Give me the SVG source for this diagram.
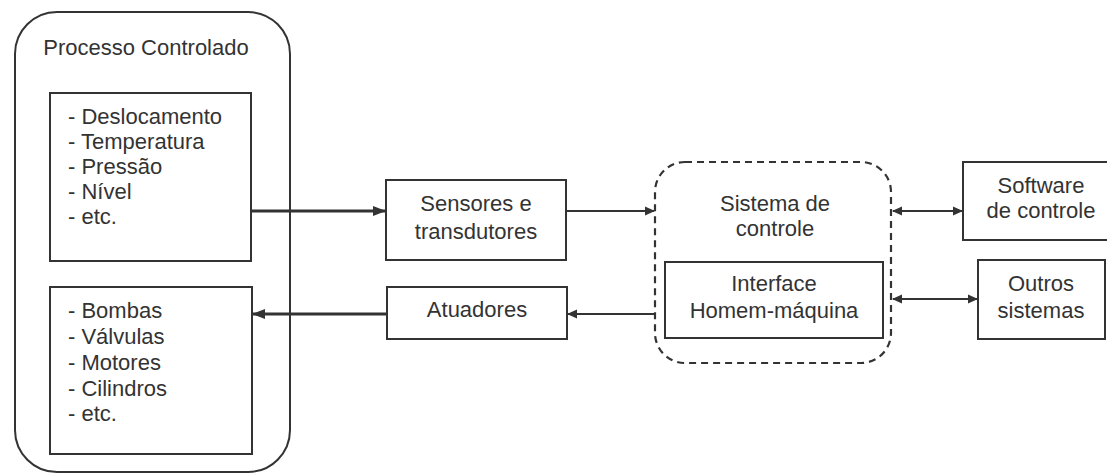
<svg xmlns="http://www.w3.org/2000/svg" width="1107" height="475" viewBox="0 0 1107 475">
  <style>
    .box { fill: #ffffff; stroke: #333; stroke-width: 2; }
    .dash { fill: none; stroke: #333; stroke-width: 2.2; stroke-dasharray: 7 5; }
    .t { font-family: "Liberation Sans", Arial, sans-serif; font-size: 22px; fill: #333; }
    .c { text-anchor: middle; }
    .wire { stroke: #333; stroke-width: 2; fill: none; }
    .thick { stroke: #333; stroke-width: 3.2; fill: none; }
  </style>
  <defs>
    <marker id="ah" markerWidth="10" markerHeight="10" refX="9" refY="5" orient="auto-start-reverse" markerUnits="userSpaceOnUse">
      <path d="M0,0.5 L10,5 L0,9.5 Z" fill="#333"/>
    </marker>
    <marker id="ahb" markerWidth="13" markerHeight="12" refX="12" refY="6" orient="auto-start-reverse" markerUnits="userSpaceOnUse">
      <path d="M0,1 L13,6 L0,11 Z" fill="#333"/>
    </marker>
  </defs>

  <rect width="1107" height="475" fill="#ffffff"/>

  <!-- controlled process container -->
  <g id="processo">
    <rect class="box" x="15" y="12" width="275" height="460" rx="42" ry="42"/>
    <text class="t c" x="146" y="55">Processo Controlado</text>
  </g>

  <g id="variaveis">
    <rect class="box" x="50" y="93" width="201" height="168"/>
    <text class="t" x="68" y="124">- Deslocamento</text>
    <text class="t" x="68" y="149">- Temperatura</text>
    <text class="t" x="68" y="174">- Pressão</text>
    <text class="t" x="68" y="199">- Nível</text>
    <text class="t" x="68" y="224">- etc.</text>
  </g>

  <g id="atuacao">
    <rect class="box" x="50" y="287" width="202" height="167"/>
    <text class="t" x="68" y="318">- Bombas</text>
    <text class="t" x="68" y="344">- Válvulas</text>
    <text class="t" x="68" y="370">- Motores</text>
    <text class="t" x="68" y="396">- Cilindros</text>
    <text class="t" x="68" y="421">- etc.</text>
  </g>

  <g id="sensores">
    <rect class="box" x="386" y="180" width="180" height="80"/>
    <text class="t c" x="476" y="211">Sensores e</text>
    <text class="t c" x="476" y="239">transdutores</text>
  </g>

  <g id="atuadores">
    <rect class="box" x="387" y="287" width="180" height="52"/>
    <text class="t c" x="477" y="317">Atuadores</text>
  </g>

  <g id="sistema">
    <rect class="dash" x="655" y="162" width="236" height="201" rx="30" ry="30"/>
    <text class="t c" x="775" y="211">Sistema de</text>
    <text class="t c" x="775" y="236">controle</text>
  </g>

  <g id="ihm">
    <rect class="box" x="665" y="262" width="218" height="76"/>
    <text class="t c" x="774" y="291">Interface</text>
    <text class="t c" x="774" y="318">Homem-máquina</text>
  </g>

  <g id="software">
    <rect class="box" x="963" y="162" width="150" height="78"/>
    <text class="t c" x="1041" y="193">Software</text>
    <text class="t c" x="1041" y="218">de controle</text>
  </g>

  <g id="outros">
    <rect class="box" x="978" y="260" width="127" height="79"/>
    <text class="t c" x="1041" y="291">Outros</text>
    <text class="t c" x="1041" y="318">sistemas</text>
  </g>

  <!-- connectors -->
  <g id="connectors">
    <line class="thick" x1="251" y1="211" x2="385" y2="211" marker-end="url(#ahb)"/>
    <line class="thick" x1="386" y1="314" x2="253" y2="314" marker-end="url(#ahb)"/>
    <line class="wire" x1="566" y1="211" x2="654" y2="211" marker-end="url(#ah)"/>
    <line class="wire" x1="655" y1="314" x2="568" y2="314" marker-end="url(#ah)"/>
    <line class="wire" x1="893" y1="211" x2="962" y2="211" marker-start="url(#ah)" marker-end="url(#ah)"/>
    <line class="wire" x1="893" y1="299" x2="977" y2="299" marker-start="url(#ah)" marker-end="url(#ah)"/>
  </g>
</svg>
